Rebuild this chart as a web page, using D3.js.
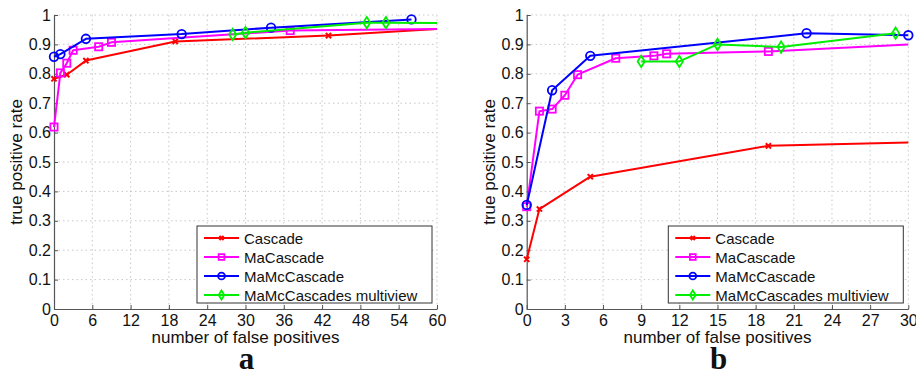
<!DOCTYPE html>
<html>
<head>
<meta charset="utf-8">
<script src="https://cdn.jsdelivr.net/npm/d3@7/dist/d3.min.js"></script>
<style>
  html, body { margin: 0; padding: 0; background: #fff; }
  svg { display: block; }
  text { font-family: "Liberation Sans", Arial, Helvetica, sans-serif; fill: #111; }
</style>
</head>
<body>
<svg id="chart" width="916" height="373"></svg>
<script>
// ---- data: panel a (false positives 0..60) ----
const seriesNames = ["Cascade", "MaCascade", "MaMcCascade", "MaMcCascades multiview"];
const seriesColors = ["#ff0000", "#ff00ff", "#0000ff", "#00ee00"];
const seriesMarkers = ["x", "square", "circle", "diamond"];

const cascadeA_x = [0, 2, 5, 19, 43, 60];
const cascadeA_y = [0.783, 0.797, 0.845, 0.910, 0.930, 0.952];
const maCascadeA_x = [0, 1, 2, 3, 7, 9, 37, 60];
const maCascadeA_y = [0.619, 0.803, 0.836, 0.880, 0.892, 0.907, 0.947, 0.952];
const maMcCascadeA_x = [0, 1, 5, 20, 34, 56];
const maMcCascadeA_y = [0.858, 0.867, 0.919, 0.935, 0.957, 0.985];
const multiviewA_x = [28, 30, 49, 52, 60];
const multiviewA_y = [0.934, 0.940, 0.974, 0.974, 0.973];

// ---- data: panel b (false positives 0..30) ----
const cascadeB_x = [0, 1, 5, 19, 30];
const cascadeB_y = [0.169, 0.340, 0.450, 0.555, 0.566];
const maCascadeB_x = [0, 1, 2, 3, 4, 7, 10, 11, 19, 30];
const maCascadeB_y = [0.348, 0.673, 0.680, 0.727, 0.797, 0.853, 0.861, 0.868, 0.876, 0.900];
const maMcCascadeB_x = [0, 2, 5, 22, 30];
const maMcCascadeB_y = [0.354, 0.744, 0.861, 0.938, 0.931];
const multiviewB_x = [9, 12, 15, 20, 29];
const multiviewB_y = [0.842, 0.842, 0.900, 0.891, 0.938];

// ---- ticks ----
const xTicksA = [0, 6, 12, 18, 24, 30, 36, 42, 48, 54, 60];
const xTicksB = [0, 3, 6, 9, 12, 15, 18, 21, 24, 27, 30];
const yTicks = [0, 0.1, 0.2, 0.3, 0.4, 0.5, 0.6, 0.7, 0.8, 0.9, 1];

const xLabel = "number of false positives";
const yLabel = "true positive rate";

const zip = (xs, ys) => xs.map((x, i) => ({ x, y: ys[i] }));

const panels = [
  {
    id: "a", left: 54, right: 437, xMax: 60, xTicks: xTicksA,
    series: [
      zip(cascadeA_x, cascadeA_y),
      zip(maCascadeA_x, maCascadeA_y),
      zip(maMcCascadeA_x, maMcCascadeA_y),
      zip(multiviewA_x, multiviewA_y)
    ],
    edgeMarker: [false, false, false, false]
  },
  {
    id: "b", left: 526.7, right: 908.3, xMax: 30, xTicks: xTicksB,
    series: [
      zip(cascadeB_x, cascadeB_y),
      zip(maCascadeB_x, maCascadeB_y),
      zip(maMcCascadeB_x, maMcCascadeB_y),
      zip(multiviewB_x, multiviewB_y)
    ],
    edgeMarker: [false, false, true, false]
  }
];

const plotTop = 15, plotBottom = 309;
const svg = d3.select("#chart");

function drawMarker(g, type, color, cx, cy, s) {
  if (type === "x") {
    g.append("path")
      .attr("d", `M${cx - s},${cy - s}L${cx + s},${cy + s}M${cx - s},${cy + s}L${cx + s},${cy - s}`)
      .attr("stroke", color).attr("stroke-width", 2).attr("fill", "none");
  } else if (type === "square") {
    g.append("rect")
      .attr("x", cx - s).attr("y", cy - s).attr("width", 2 * s).attr("height", 2 * s)
      .attr("stroke", color).attr("stroke-width", 1.8).attr("fill", "none");
  } else if (type === "circle") {
    g.append("circle")
      .attr("cx", cx).attr("cy", cy).attr("r", s)
      .attr("stroke", color).attr("stroke-width", 1.8).attr("fill", "none");
  } else if (type === "diamond") {
    g.append("path")
      .attr("d", `M${cx},${cy - s * 1.35}L${cx + s * 0.85},${cy}L${cx},${cy + s * 1.35}L${cx - s * 0.85},${cy}Z`)
      .attr("stroke", color).attr("stroke-width", 1.8).attr("fill", "none");
  }
}

const markerSize = [2.6, 3.6, 4.3, 4.2];

panels.forEach(p => {
  const x = d3.scaleLinear().domain([0, p.xMax]).range([p.left, p.right]);
  const y = d3.scaleLinear().domain([0, 1]).range([plotBottom, plotTop]);
  const g = svg.append("g").attr("class", "panel-" + p.id);

  // dotted grid
  const grid = g.append("g").attr("stroke", "#c8c8c8").attr("stroke-width", 1)
    .attr("stroke-dasharray", "1.5,3");
  p.xTicks.filter(t => t > 0).forEach(t => {
    grid.append("line").attr("x1", x(t)).attr("x2", x(t)).attr("y1", plotBottom).attr("y2", plotTop);
  });
  yTicks.filter(t => t > 0).forEach(t => {
    grid.append("line").attr("x1", p.left).attr("x2", p.right).attr("y1", y(t)).attr("y2", y(t));
  });

  // axes with inward ticks
  const xAxis = d3.axisBottom(x).tickValues(p.xTicks).tickSizeInner(-4).tickSizeOuter(0)
    .tickPadding(6).tickFormat(d3.format("d"));
  const yAxis = d3.axisLeft(y).tickValues(yTicks).tickSizeInner(-4).tickSizeOuter(0)
    .tickPadding(3).tickFormat(d => (d === 0 || d === 1) ? String(d) : d.toFixed(1));

  const gx = g.append("g").attr("transform", `translate(0,${plotBottom})`).call(xAxis);
  const gy = g.append("g").attr("transform", `translate(${p.left},0)`).call(yAxis);
  [gx, gy].forEach(a => {
    a.select(".domain").attr("stroke", "#555").attr("stroke-width", 1.2);
    a.selectAll(".tick line").attr("stroke", "#555");
    a.selectAll(".tick text").attr("font-size", 16).attr("fill", "#111")
      .style("font-family", "'Liberation Sans', Arial, sans-serif");
  });

  // axis titles
  g.append("text").attr("x", (p.left + p.right) / 2).attr("y", 343)
    .attr("text-anchor", "middle").attr("font-size", 17).text(xLabel);
  g.append("text")
    .attr("transform", `translate(${p.left - 32},${(plotTop + plotBottom) / 2}) rotate(-90)`)
    .attr("text-anchor", "middle").attr("font-size", 17).text(yLabel);

  // panel letter
  g.append("text").attr("x", (p.left + p.right) / 2 + 1).attr("y", 369)
    .attr("text-anchor", "middle").attr("font-size", 31).attr("font-weight", "bold")
    .style("font-family", "'Liberation Serif', 'Times New Roman', serif")
    .text(p.id);

  // series lines and markers
  const line = d3.line().x(d => x(d.x)).y(d => y(d.y));
  p.series.forEach((pts, i) => {
    const sg = g.append("g");
    sg.append("path").datum(pts).attr("d", line)
      .attr("fill", "none").attr("stroke", seriesColors[i]).attr("stroke-width", 2)
      .attr("stroke-linejoin", "round");
    pts.filter(d => d.x < p.xMax || p.edgeMarker[i]).forEach(d => {
      drawMarker(sg, seriesMarkers[i], seriesColors[i], x(d.x), y(d.y), markerSize[i]);
    });
  });

  // legend
  const lw = 235, lh = 77;
  const lx = p.right - 5 - lw, ly = plotBottom - 6 - lh;
  const lg = g.append("g").attr("transform", `translate(${lx},${ly})`);
  lg.append("rect").attr("width", lw).attr("height", lh)
    .attr("fill", "#fff").attr("stroke", "#333").attr("stroke-width", 1);
  seriesNames.forEach((name, i) => {
    const ry = 12 + i * 19;
    lg.append("line").attr("x1", 7).attr("x2", 42).attr("y1", ry).attr("y2", ry)
      .attr("stroke", seriesColors[i]).attr("stroke-width", 2);
    drawMarker(lg, seriesMarkers[i], seriesColors[i], 24.5, ry, markerSize[i] * 0.8);
    lg.append("text").attr("x", 47).attr("y", ry + 5.5).attr("font-size", 15).text(name);
  });
});
</script>
</body>
</html>
